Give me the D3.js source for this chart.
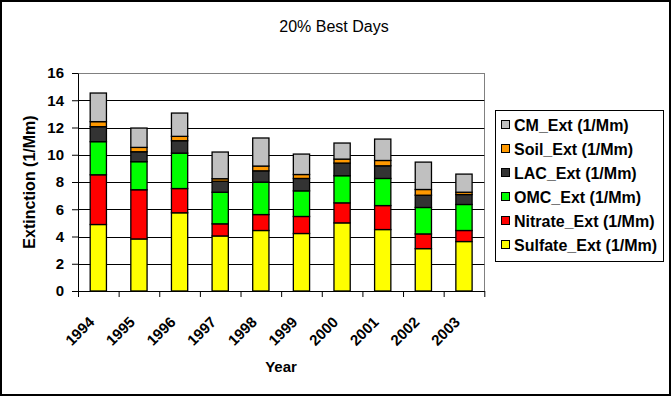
<!DOCTYPE html>
<html><head><meta charset="utf-8">
<script src="https://cdn.jsdelivr.net/npm/d3@7"></script>
<style>
html,body{margin:0;padding:0;background:#fff;}
svg{display:block;font-family:Arial,"Liberation Sans",sans-serif;}
</style></head>
<body><svg id="c" width="672" height="397"></svg>
<script>
const years = ["1994","1995","1996","1997","1998","1999","2000","2001","2002","2003"];
const sulfate = [4.88, 3.82, 5.74, 4.04, 4.44, 4.22, 5.00, 4.51, 3.11, 3.63];
const nitrate = [3.65, 3.61, 1.78, 0.89, 1.17, 1.25, 1.47, 1.76, 1.08, 0.81];
const omc     = [2.43, 2.06, 2.60, 2.32, 2.38, 1.88, 1.99, 1.99, 1.94, 1.91];
const lac     = [1.10, 0.73, 0.91, 0.81, 0.83, 0.91, 0.93, 0.93, 0.90, 0.73];
const soil    = [0.37, 0.32, 0.32, 0.18, 0.35, 0.29, 0.29, 0.39, 0.42, 0.17];
const cm      = [2.10, 1.42, 1.71, 1.96, 2.06, 1.50, 1.18, 1.57, 2.01, 1.33];
const seriesNames = ["Sulfate_Ext (1/Mm)","Nitrate_Ext (1/Mm)","OMC_Ext (1/Mm)","LAC_Ext (1/Mm)","Soil_Ext (1/Mm)","CM_Ext (1/Mm)"];
const seriesColors = ["#FFFF00","#FF0000","#00FF00","#333333","#FF9900","#C0C0C0"];
const yTicks = [0,2,4,6,8,10,12,14,16];

const seriesVals = [sulfate, nitrate, omc, lac, soil, cm];
const table = years.map((y,i)=>{const o={year:y}; seriesNames.forEach((s,k)=>o[s]=seriesVals[k][i]); return o;});

const svg = d3.select("#c");
const L=78, R=484.3, T=73, B=291;

svg.append("rect").attr("x",1).attr("y",1).attr("width",669).attr("height",394)
  .attr("fill","#fff").attr("stroke","#000").attr("stroke-width",2);

const x = d3.scaleBand().domain(years).range([L,R]).paddingInner(0.6).paddingOuter(0.3);
const xb = d3.scaleLinear().domain([0,years.length]).range([L,R]);
const y = d3.scaleLinear().domain([0,16]).range([B,T]);

svg.append("path").attr("d",`M${L},${T}H${R}V${B}`).attr("fill","none").attr("stroke","#808080").attr("stroke-width",1).attr("shape-rendering","crispEdges");
svg.append("g").selectAll("line").data(yTicks.filter(t=>t>0&&t<16)).join("line")
  .attr("x1",L).attr("x2",R).attr("y1",d=>Math.round(y(d))+0.5).attr("y2",d=>Math.round(y(d))+0.5)
  .attr("stroke","#000").attr("stroke-width",1);

const stack = d3.stack().keys(seriesNames)(table);
svg.append("g").selectAll("g").data(stack).join("g")
  .attr("fill",(d,i)=>seriesColors[i])
  .selectAll("rect").data(d=>d).join("rect")
  .attr("x",d=>x(d.data.year)).attr("width",x.bandwidth())
  .attr("y",d=>y(d[1])).attr("height",d=>y(d[0])-y(d[1]))
  .attr("stroke","#000").attr("stroke-width",1.3);

const ya = svg.append("g").attr("transform",`translate(${L},0)`)
  .call(d3.axisLeft(y).tickValues(yTicks).tickSize(6).tickSizeOuter(0).tickPadding(8));
ya.select(".domain").attr("stroke","#000");
ya.selectAll("text").attr("font-size",15).attr("font-weight","bold").attr("fill","#000").attr("font-family","Arial");

const xa = svg.append("g").attr("transform",`translate(0,${B})`)
  .call(d3.axisBottom(xb).tickValues(d3.range(years.length+1)).tickFormat("").tickSize(6).tickSizeOuter(0));
xa.select(".domain").attr("stroke","#000");

svg.append("g").selectAll("text").data(years).join("text")
  .attr("transform",d=>`translate(${x(d)+x.bandwidth()/2-3},${323}) rotate(-45)`)
  .attr("text-anchor","end").attr("font-size",15).attr("font-weight","bold").text(d=>d);

svg.append("text").attr("x",334).attr("y",32).attr("text-anchor","middle")
  .attr("font-size",16).text("20% Best Days");
svg.append("text").attr("x",281).attr("y",372).attr("text-anchor","middle")
  .attr("font-size",15).attr("font-weight","bold").text("Year");
svg.append("text").attr("transform",`translate(35,${(T+B)/2}) rotate(-90)`).attr("text-anchor","middle")
  .attr("font-size",16).attr("font-weight","bold").text("Extinction (1/Mm)");

const lg = svg.append("g");
lg.append("rect").attr("x",495.5).attr("y",110.5).attr("width",168).attr("height",151)
  .attr("fill","#fff").attr("stroke","#000").attr("stroke-width",1);
const legOrder = seriesNames.map((s,i)=>i).reverse();
const li = lg.selectAll("g.it").data(legOrder).join("g").attr("class","it")
  .attr("transform",(d,j)=>`translate(0,${125+j*24})`);
li.append("rect").attr("x",501.5).attr("y",-4.5).attr("width",8).attr("height",8)
  .attr("fill",d=>seriesColors[d]).attr("stroke","#000").attr("stroke-width",1);
li.append("text").attr("x",514).attr("y",6).attr("font-size",16).attr("font-weight","bold").text(d=>seriesNames[d]);
</script></body></html>
